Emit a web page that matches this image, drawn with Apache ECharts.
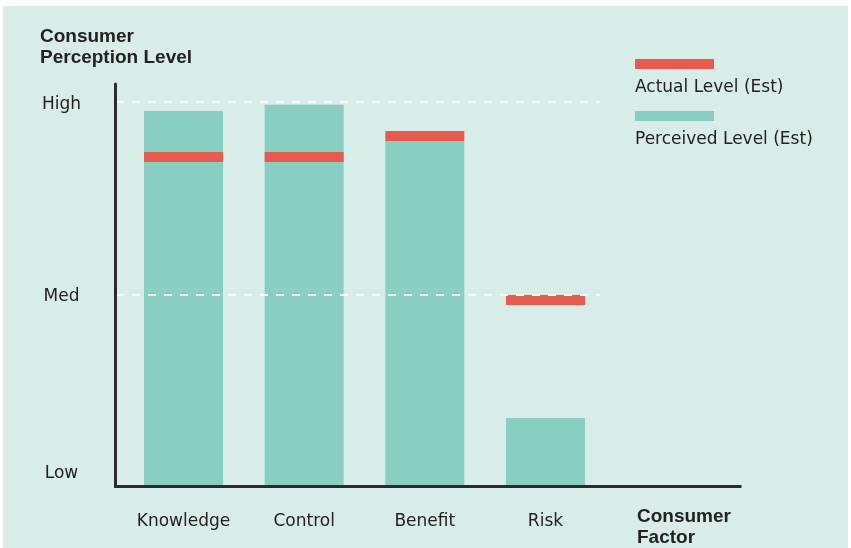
<!DOCTYPE html>
<html>
<head>
<meta charset="utf-8">
<script src="https://cdn.jsdelivr.net/npm/echarts@6/dist/echarts.min.js"></script>
<style>
html,body{margin:0;padding:0;background:#ffffff;}
#chart{width:851px;height:548px;}
</style>
</head>
<body>
<div id="chart"></div>
<script>
const categories = ['Knowledge', 'Control', 'Benefit', 'Risk'];
const perceivedLevel = [97.7, 99.3, 89.9, 17.8];
const actualLevel = [85.7, 85.7, 91.2, 48.5];
const yTickValues = [4, 50, 100];
const yTickLabels = ['Low', 'Med', 'High'];
const seriesNames = ['Actual Level (Est)', 'Perceived Level (Est)'];
const yMax = 104.7;

const BG = '#d9ede8';
const TEAL = '#88cfc1';
const RED = '#e65b4e';
const INK = '#222222';
const AXIS = '#2b2b2b';
const FONT = 'DejaVu Sans';
const BOLD = 'Liberation Sans';

const chart = echarts.init(document.getElementById('chart'), null, {renderer: 'canvas'});
const option = {
  animation: false,
  backgroundColor: '#ffffff',
  graphic: [{
    type: 'rect', left: 3, top: 6, z: -100,
    shape: {width: 845, height: 542},
    style: {fill: BG}
  }],
  title: [
    {text: 'Consumer\nPerception Level', left: 40, top: 26, padding: 0,
     textStyle: {fontFamily: BOLD, fontWeight: 'bold', fontSize: 19, lineHeight: 21, color: INK}},
    {text: 'Consumer\nFactor', left: 637, top: 506.5, padding: 0,
     textStyle: {fontFamily: BOLD, fontWeight: 'bold', fontSize: 19, lineHeight: 21, color: INK}}
  ],
  legend: [
    {data: seriesNames, orient: 'vertical', left: 635, top: 59, padding: 0,
     itemWidth: 79, itemHeight: 10, itemGap: 42, icon: 'rect', selectedMode: false,
     formatter: () => '', textStyle: {fontSize: 10, lineHeight: 10}},
    {data: seriesNames, orient: 'vertical', left: 630, top: 79.5, padding: 0,
     itemWidth: 0, itemHeight: 0, itemGap: 35, icon: 'rect', selectedMode: false,
     textStyle: {fontFamily: FONT, fontSize: 17, lineHeight: 17, color: INK}}
  ],
  grid: [
    {left: 115.5, right: 111, top: 84, bottom: 61.5},
    {left: 116, right: 251, top: 84, bottom: 61.5},
    {left: 123.2, right: 245.2, top: 84, bottom: 61.5}
  ],
  xAxis: [
    {type: 'value', gridIndex: 0, min: 0, max: 1, z: 10,
     axisLine: {show: true, lineStyle: {color: AXIS, width: 3, cap: 'square'}},
     axisTick: {show: false}, axisLabel: {show: false}, splitLine: {show: false}},
    {type: 'value', gridIndex: 1, min: 0, max: 1, show: false},
    {type: 'category', gridIndex: 2, data: categories, boundaryGap: true,
     axisLine: {show: false}, axisTick: {show: false}, splitLine: {show: false},
     axisLabel: {interval: 0, fontFamily: FONT, fontSize: 17, color: INK, margin: 26.5}}
  ],
  yAxis: [
    {type: 'value', gridIndex: 0, min: 0, max: yMax, z: 10,
     axisLine: {show: true, lineStyle: {color: AXIS, width: 3}},
     axisTick: {show: false}, splitLine: {show: false},
     axisLabel: {customValues: yTickValues, align: 'center', margin: 54,
       verticalAlign: 'top', lineHeight: 5,
       fontFamily: FONT, fontSize: 17, color: INK,
       formatter: v => yTickLabels[yTickValues.indexOf(v)]}},
    {type: 'value', gridIndex: 1, min: 0, max: yMax, interval: 50, z: 5,
     axisLine: {show: false}, axisTick: {show: false}, axisLabel: {show: false},
     splitLine: {show: true, showMinLine: false, showMaxLine: false,
       lineStyle: {color: '#ffffff', width: 2, type: [8, 8]}}},
    {type: 'value', gridIndex: 2, min: 0, max: yMax, show: false}
  ],
  series: [
    {name: seriesNames[1], type: 'bar', xAxisIndex: 2, yAxisIndex: 2,
     data: perceivedLevel, barWidth: 79, itemStyle: {color: TEAL}},
    {name: seriesNames[0], type: 'scatter', xAxisIndex: 2, yAxisIndex: 2,
     data: actualLevel, symbol: 'rect', symbolSize: [79, 10], z: 3,
     itemStyle: {color: RED, opacity: 1}}
  ]
};
chart.setOption(option);
</script>
</body>
</html>
